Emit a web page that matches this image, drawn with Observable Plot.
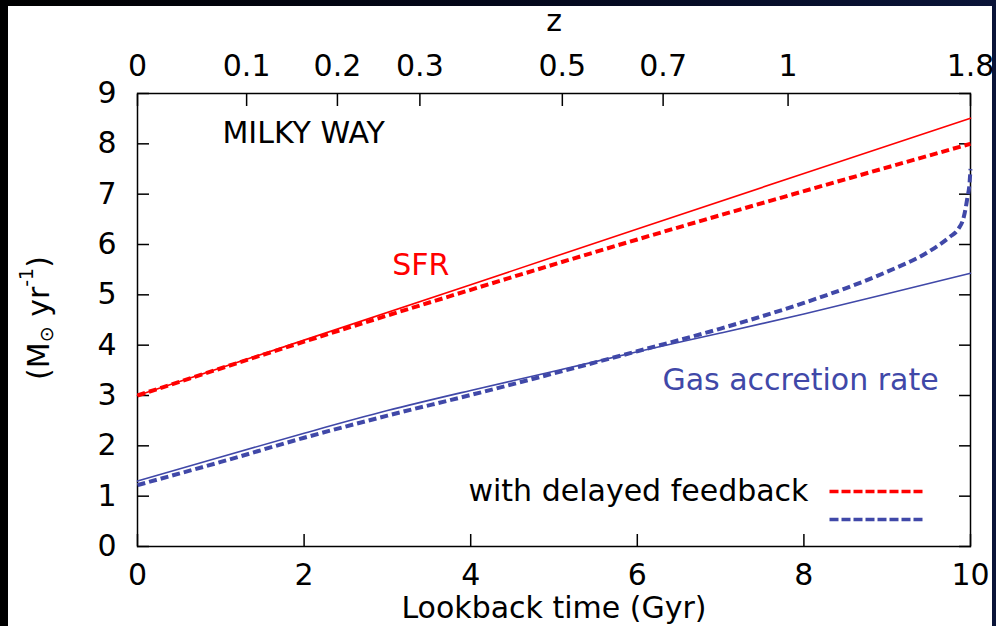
<!DOCTYPE html>
<html><head><meta charset="utf-8">
<script src="https://cdn.jsdelivr.net/npm/d3@7"></script>
<script src="https://cdn.jsdelivr.net/npm/@observablehq/plot@0.6"></script>
<style>
html,body{margin:0;padding:0;background:#000;}
#wrap{position:relative;width:996px;height:626px;overflow:hidden;background:linear-gradient(90deg,#000 0%,#03071a 50%,#0a1438 100%);}
#panel{position:absolute;left:8px;top:6px;width:984px;height:620px;background:#fff;}
#chart{position:absolute;left:0;top:0;}
</style></head><body>
<div id="wrap"><div id="panel"></div><div id="chart"></div></div>
<script>
// ---- data ----
const timeTicks = [0, 2, 4, 6, 8, 10];
const rateTicks = [0, 1, 2, 3, 4, 5, 6, 7, 8, 9];
const zLabels   = ["0", "0.1", "0.2", "0.3", "0.5", "0.7", "1", "1.8"];
const zLookback = [0, 1.31, 2.40, 3.39, 5.10, 6.31, 7.81, 10];

const sfrTime     = [0, 2, 4, 6, 8, 10];
const sfrNoDelay  = [3.00, 4.10, 5.20, 6.31, 7.41, 8.51];
const sfrDelayed  = [3.00, 4.07, 5.10, 6.10, 7.06, 8.00];

const gasTime     = [0, 1, 2, 3, 4, 5, 6, 7, 8, 9, 10];
const gasNoDelay  = [1.30, 1.78, 2.25, 2.70, 3.10, 3.48, 3.87, 4.24, 4.62, 5.02, 5.43];

const gasDelTime  = [0, 1, 2, 3, 4, 5, 6, 7, 8, 8.5, 9, 9.5, 9.75, 9.85, 9.92, 9.96, 9.99, 10];
const gasDelayed  = [1.22, 1.68, 2.16, 2.60, 3.01, 3.44, 3.88, 4.33, 4.84, 5.13, 5.46, 5.86, 6.15, 6.30, 6.55, 6.90, 7.25, 7.50];

const seriesNames = ["SFR", "Gas accretion rate"];
const titleText   = "MILKY WAY";
const legendText  = "with delayed feedback";
const xLabel      = "Lookback time (Gyr)";
const topLabel    = "z";

// ---- helpers ----
const toRows = (xs, ys) => xs.map((x, i) => ({x, y: ys[i]}));
const RED = "#ff0000", BLUE = "#4048a8";
const FONT = "DejaVu Sans";
const FS = 30;
const zMap = new Map(zLookback.map((t, i) => [t, zLabels[i]]));
const legendSymbol = {draw(ctx) { ctx.moveTo(-48, 0); ctx.lineTo(48, 0); }};
const dashStyle = {strokeWidth: 4, strokeDasharray: "8,4", strokeLinecap: "butt", curve: "monotone-x"};

const plot = Plot.plot({
  width: 996, height: 626,
  marginLeft: 137, marginRight: 26, marginTop: 93, marginBottom: 80,
  style: {fontFamily: FONT, fontSize: FS + "px", background: "transparent", color: "#000"},
  x: {domain: [0, 10]},
  y: {domain: [0, 9]},
  marks: [
    // inward tick marks on four sides
    Plot.axisX(timeTicks, {anchor: "bottom", tickSize: 12, dy: -12, tickFormat: () => "", label: null, strokeWidth: 1.5}),
    Plot.axisX(timeTicks, {anchor: "bottom", tickSize: 0, tickPadding: 17, label: null, tickFormat: d => String(d), fontSize: FS}),
    Plot.axisX(zLookback, {anchor: "top", tickSize: 12, dy: 12, tickFormat: () => "", label: null, strokeWidth: 1.5}),
    Plot.axisX(zLookback, {anchor: "top", tickSize: 0, tickPadding: 18, label: null, tickFormat: d => zMap.get(d), fontSize: FS}),
    Plot.axisY(rateTicks, {anchor: "left", tickSize: 12, dx: 12, tickFormat: () => "", label: null, strokeWidth: 1.5}),
    Plot.axisY(rateTicks, {anchor: "left", tickSize: 0, tickPadding: 21, label: null, tickFormat: d => String(d), fontSize: FS}),
    Plot.axisY(rateTicks, {anchor: "right", tickSize: 12, dx: -12, tickFormat: () => "", label: null, strokeWidth: 1.5}),
    Plot.frame({stroke: "#000", strokeWidth: 1.5}),

    // series
    Plot.line(toRows(sfrTime, sfrNoDelay), {x: "x", y: "y", stroke: RED, strokeWidth: 1.6}),
    Plot.line(toRows(sfrTime, sfrDelayed), {x: "x", y: "y", stroke: RED, ...dashStyle}),
    Plot.line(toRows(gasTime, gasNoDelay), {x: "x", y: "y", stroke: BLUE, strokeWidth: 1.6, curve: "monotone-x"}),
    Plot.line(toRows(gasDelTime, gasDelayed), {x: "x", y: "y", stroke: BLUE, ...dashStyle}),

    // annotations
    Plot.text([titleText], {x: 1.02, y: 8.21, text: d => d, textAnchor: "start", fill: "#000", fontSize: FS}),
    Plot.text([seriesNames[0]], {x: 3.40, y: 5.59, text: d => d, fill: RED, fontSize: FS}),
    Plot.text([seriesNames[1]], {x: 7.96, y: 3.30, text: d => d, fill: BLUE, fontSize: FS}),

    // legend
    Plot.text([legendText], {frameAnchor: "bottom-right", lineAnchor: "middle", dx: -162, dy: -55, text: d => d, textAnchor: "end", fill: "#000", fontSize: FS}),
    Plot.dot([0], {frameAnchor: "bottom-right", dx: -93, dy: -55, symbol: legendSymbol, r: 3, fill: "none", stroke: RED, strokeWidth: 3.5, strokeDasharray: "9,3"}),
    Plot.dot([0], {frameAnchor: "bottom-right", dx: -93, dy: -27, symbol: legendSymbol, r: 3, fill: "none", stroke: BLUE, strokeWidth: 3.5, strokeDasharray: "9,3"}),

    // axis titles
    Plot.text([xLabel], {frameAnchor: "bottom", lineAnchor: "middle", dy: 62, text: d => d, fontSize: FS}),
    Plot.text([topLabel], {frameAnchor: "top", lineAnchor: "middle", dy: -72, text: d => d, fontSize: FS})
  ]
});
document.getElementById("chart").appendChild(plot);

// y-axis title with subscript / superscript
const svg = d3.select(plot);
const yl = svg.append("text")
  .attr("transform", "translate(40,318) rotate(-90)")
  .attr("text-anchor", "middle").attr("dominant-baseline", "middle")
  .attr("font-family", FONT).attr("font-size", FS).attr("fill", "#000");
yl.append("tspan").text("(M");
yl.append("tspan").attr("font-size", 19).attr("dy", 7).text("\u2299");
yl.append("tspan").attr("dy", -7).text(" yr");
yl.append("tspan").attr("font-size", 19).attr("dy", -13).text("-1");
yl.append("tspan").attr("dy", 13).text(")");
</script>
</body></html>
